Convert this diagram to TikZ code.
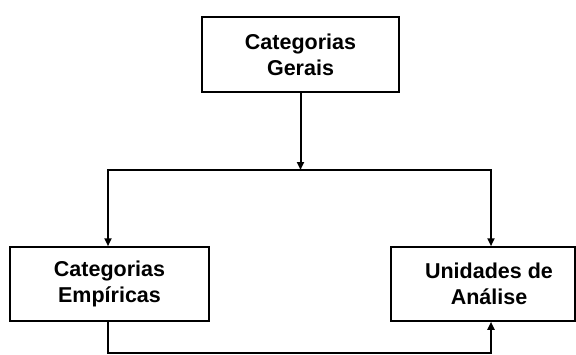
\documentclass[tikz,border=0pt]{standalone}
\usepackage{fontspec}
\setmainfont{Liberation Sans}
\usepackage{tikz}
\usetikzlibrary{arrows.meta, positioning, calc}

\tikzset{
  catbox/.style={draw, line width=1.5pt, minimum height=74pt, inner sep=0pt,
    align=center, font=\bfseries\fontsize{21.5}{26}\selectfont},
  catlabel/.style={align=center, font=\bfseries\fontsize{21.5}{26}\selectfont},
  flow/.style={line width=2pt, -{Triangle[length=8pt, width=7pt]}},
}

\begin{document}
\begin{tikzpicture}[x=1pt, y=-1pt]
  \fill[white] (0,0) rectangle (576,354);
  \useasboundingbox (0,0) rectangle (576,354);
  % boxes
  \node[catbox, minimum width=197pt, minimum height=75pt] (gerais) at (300.5,54.5) {Categorias\\Gerais};
  \node[catbox, minimum width=199pt] (empiricas) at (109.5,284) {Categorias\\Emp\'iricas};
  \node[catbox, minimum width=184pt] (unidades) at (483,284) {};
  \node[catlabel] (unidadestxt) at ([xshift=6pt]unidades.center) {Unidades de\\An\'alise};
  % split
  \coordinate (split) at (gerais.south |- 0,170);
  \draw[flow] (gerais.south) -- (split);
  \draw[flow] (split) -| ([xshift=-1.5pt]empiricas.north);
  \draw[flow] (split) -| ([xshift=8pt]unidades.north);
  % return
  \draw[flow] ([xshift=-1.5pt]empiricas.south) -- ++(0,31) -| ([xshift=8pt]unidades.south);
\end{tikzpicture}
\end{document}
